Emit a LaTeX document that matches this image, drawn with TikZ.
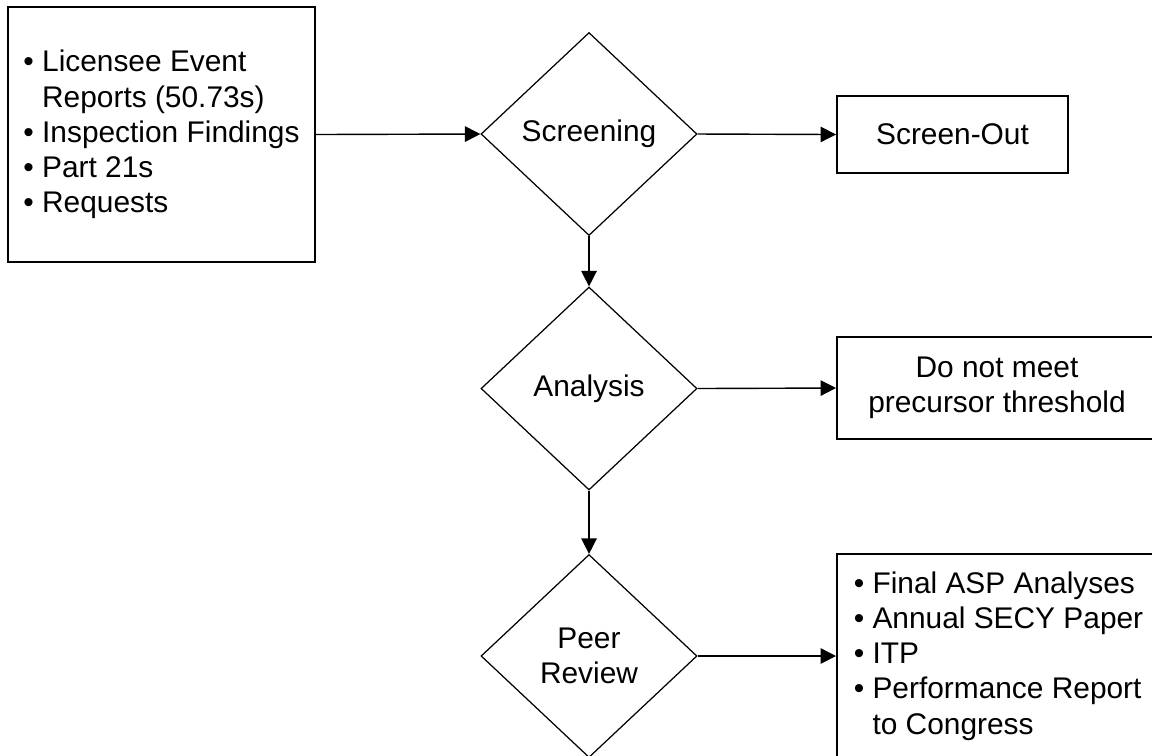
\documentclass[tikz,border=0pt]{standalone}
\usepackage{fontspec}
\setmainfont{Liberation Sans}
\usetikzlibrary{arrows.meta}
\usetikzlibrary{shapes.geometric}

\begin{document}
\begin{tikzpicture}[every node/.style={font=\fontsize{8.5}{10}\selectfont},
   Box/.style={draw, line width=0.55pt, inner sep=0pt},
   Decision/.style={draw, diamond, line width=0.35pt, inner sep=0pt, minimum width=2.16cm, minimum height=2.03cm, align=center},
   Flow/.style={-{Triangle[length=4.4pt,width=4.4pt]}, line width=0.4pt}]
   \path[use as bounding box, clip] (0,0) rectangle (11.52,-7.55);
   \node[Box, minimum width=3.07cm, minimum height=2.55cm, align=left] (Sources) at (1.615,-1.345)
      {• Licensee Event\\\phantom{• }Reports (50.73s)\\• Inspection Findings\\• Part 21s\\• Requests};
   \node[Decision] (Screening) at (5.89,-1.34) {Screening};
   \node[Decision] (Analysis) at (5.89,-3.885) {Analysis};
   \node[Decision] (Peer Review) at (5.89,-6.56) {Peer\\Review};
   \node[Box, minimum width=2.31cm, minimum height=0.77cm] (Screen-Out) at (9.525,-1.345) {Screen-Out};
   \node[Box, minimum width=3.2cm, minimum height=1.02cm, align=center] (Threshold) at (9.97,-3.88)
      {Do not meet\\precursor threshold};
   \node[Box, minimum width=3.23cm, minimum height=2.04cm, align=left] (Products) at (9.985,-6.56)
      {• Final ASP Analyses\\• Annual SECY Paper\\• ITP\\• Performance Report\\\phantom{• }to Congress};
   \draw[Flow] (Sources.east) -- (Screening.west);
   \draw[Flow] (Screening.east) -- (Screen-Out.west);
   \draw[Flow] (Screening.south) -- (Analysis.north);
   \draw[Flow] (Analysis.east) -- (Threshold.west);
   \draw[Flow] (Analysis.south) -- (Peer Review.north);
   \draw[Flow] (Peer Review.east) -- (Products.west);
\end{tikzpicture}
\end{document}
